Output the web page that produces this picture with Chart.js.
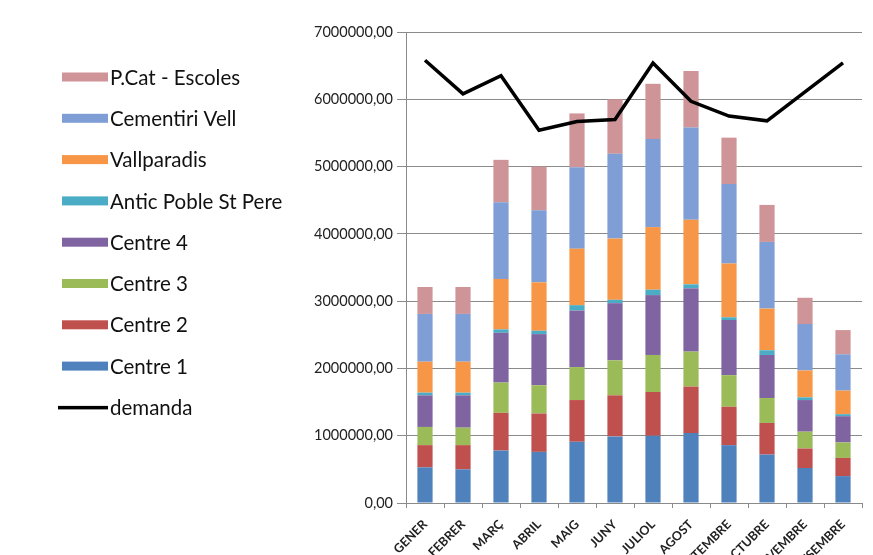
<!DOCTYPE html>
<html>
<head>
<meta charset="utf-8">
<script src="https://cdn.jsdelivr.net/npm/chart.js@4.4.1/dist/chart.umd.min.js"></script>
<style>
html,body{margin:0;padding:0;background:#fff;overflow:hidden;}
#wrap{position:relative;width:873px;height:555px;}
</style>
</head>
<body>
<div id="wrap"><canvas id="c" width="873" height="555"></canvas></div>
<script>
const months = ['GENER','FEBRER','MARÇ','ABRIL','MAIG','JUNY','JULIOL','AGOST','SETEMBRE','OCTUBRE','NOVEMBRE','DESEMBRE'];
const centre1 = [530000,500000,780000,760000,910000,990000,1000000,1040000,860000,720000,520000,400000];
const centre2 = [330000,360000,560000,570000,620000,610000,650000,690000,570000,470000,290000,270000];
const centre3 = [270000,260000,450000,420000,490000,520000,550000,520000,470000,370000,250000,230000];
const centre4 = [470000,480000,740000,760000,840000,850000,890000,940000,820000,640000,470000,390000];
const anticPoble = [40000,40000,50000,50000,80000,50000,80000,60000,40000,70000,40000,30000];
const vallparadis = [460000,460000,750000,720000,840000,910000,930000,960000,800000,620000,400000,350000];
const cementiriVell = [710000,710000,1140000,1070000,1210000,1260000,1310000,1370000,1180000,990000,690000,540000];
const pcatEscoles = [400000,400000,630000,650000,800000,810000,820000,840000,690000,550000,390000,360000];
const demanda = [6580000,6080000,6350000,5540000,5670000,5700000,6540000,5970000,5750000,5680000,6110000,6540000];
const yTicks = [0,1000000,2000000,3000000,4000000,5000000,6000000,7000000];

const barSeries = [
  {label:'Centre 1', data:centre1, color:'#4F81BD'},
  {label:'Centre 2', data:centre2, color:'#C0504D'},
  {label:'Centre 3', data:centre3, color:'#9BBB59'},
  {label:'Centre 4', data:centre4, color:'#8064A2'},
  {label:'Antic Poble St Pere', data:anticPoble, color:'#4BACC6'},
  {label:'Vallparadis', data:vallparadis, color:'#F79646'},
  {label:'Cementiri Vell', data:cementiriVell, color:'#7F9ED6'},
  {label:'P.Cat - Escoles', data:pcatEscoles, color:'#CF9497'}
];

const datasets = barSeries.map(s => ({
  type:'bar', label:s.label, data:s.data, backgroundColor:s.color, borderWidth:0,
  categoryPercentage:1, barPercentage:0.4, stack:'bars', order:1
}));
datasets.push({
  type:'line', label:'demanda', data:demanda, borderColor:'#000', borderWidth:3.5,
  pointRadius:0, tension:0, fill:false, stack:'line', order:0
});

const legendPlugin = {
  id:'sideLegend',
  afterDraw(chart){
    const ctx = chart.ctx;
    const ds = chart.data.datasets;
    const items = ds.slice(0, ds.length-1).reverse().concat([ds[ds.length-1]]);
    const top = 77, step = 41.3;
    ctx.save();
    ctx.font = '20.5px Lato, "Open Sans", sans-serif';
    ctx.textBaseline = 'middle';
    items.forEach((d,i)=>{
      const y = top + i*step;
      if(d.type==='line'){
        ctx.fillStyle = '#000';
        ctx.fillRect(58, y-1.5, 50, 3.5);
      } else {
        ctx.fillStyle = d.backgroundColor;
        ctx.fillRect(62, y-4.5, 46, 9);
      }
      ctx.fillStyle = '#111';
      ctx.fillText(d.label, 110, y+1);
    });
    ctx.restore();
  }
};

new Chart(document.getElementById('c'), {
  data:{labels:months, datasets:datasets},
  options:{
    responsive:false, animation:false,
    layout:{padding:{left:300, right:11, top:32, bottom:0}},
    plugins:{legend:{display:false}, tooltip:{enabled:false}},
    scales:{
      x:{
        stacked:true,
        grid:{drawOnChartArea:false, drawTicks:true, tickLength:5, color:'#8a8a8a', offset:true},
        border:{color:'#8a8a8a'},
        ticks:{minRotation:45, maxRotation:45, autoSkip:false, color:'#222', font:{family:'Lato', size:12.5, weight:'bold'}, padding:9},
        afterFit(s){ s.height = 52; }
      },
      y:{
        stacked:true, min:0, max:7000000,
        afterBuildTicks(s){ s.ticks = yTicks.map(v=>({value:v})); },
        grid:{color:'#8a8a8a', lineWidth:1, tickLength:9},
        border:{color:'#8a8a8a'},
        ticks:{color:'#222', font:{family:'Lato', size:14.5}, padding:4,
          callback:(v)=>Number(v).toFixed(2).replace('.', ',')},
        afterFit(s){ s.width = 106; }
      }
    }
  },
  plugins:[legendPlugin]
});
</script>
</body>
</html>
